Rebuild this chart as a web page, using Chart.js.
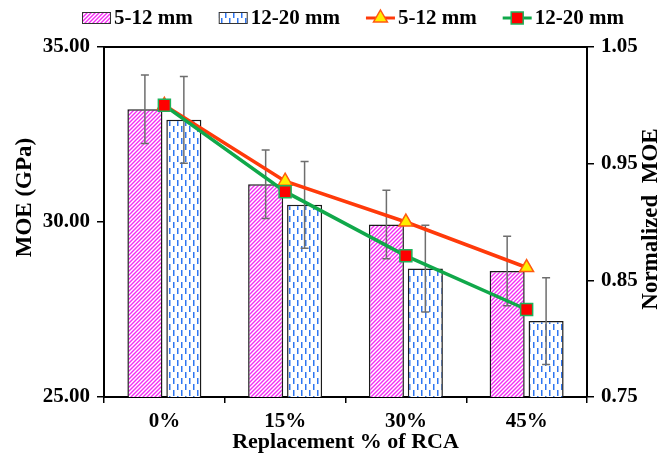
<!DOCTYPE html>
<html>
<head>
<meta charset="utf-8">
<script src="https://cdn.jsdelivr.net/npm/chart.js@4/dist/chart.umd.min.js"></script>
<style>
  html, body { margin: 0; padding: 0; background: #ffffff; }
  #wrap { width: 672px; height: 456px; }
</style>
</head>
<body>
<div id="wrap"><canvas id="chart" width="672" height="456"></canvas></div>
<script>
// Modulus of elasticity by RCA replacement level, two aggregate size ranges
const categories = ['0%', '15%', '30%', '45%'];
const seriesLabels = ['5-12 mm', '12-20 mm'];
const moeFine = [33.22, 31.08, 29.93, 28.60];      // GPa, 5-12 mm
const moeCoarse = [32.92, 30.49, 28.67, 27.17];    // GPa, 12-20 mm
const errFine = [0.98, 0.98, 0.98, 0.99];
const errCoarse = [1.24, 1.24, 1.24, 1.24];
const normFine = [1.000, 0.935, 0.900, 0.861];     // normalized MOE, 5-12 mm
const normCoarse = [1.000, 0.926, 0.871, 0.825];   // normalized MOE, 12-20 mm
const moeTicks = [25, 30, 35];
const normTicks = [0.75, 0.85, 0.95, 1.05];
const axisTitles = { x: 'Replacement % of RCA', y: 'MOE (GPa)', y1: 'Normalized  MOE' };

const FONT = '"Liberation Serif", "Times New Roman", serif';

// Fill patterns for the bars
function hatchPattern() {
  const c = document.createElement('canvas');
  c.width = 4; c.height = 4;
  const g = c.getContext('2d');
  g.fillStyle = '#ffffff';
  g.fillRect(0, 0, 4, 4);
  g.strokeStyle = '#f52cf5';
  g.lineWidth = 1.4;
  g.beginPath();
  g.moveTo(0, 4); g.lineTo(4, 0);
  g.moveTo(-1, 1); g.lineTo(1, -1);
  g.moveTo(3, 5); g.lineTo(5, 3);
  g.stroke();
  return g.createPattern(c, 'repeat');
}
function dashPattern() {
  const c = document.createElement('canvas');
  c.width = 8; c.height = 12;
  const g = c.getContext('2d');
  g.fillStyle = '#ffffff';
  g.fillRect(0, 0, 8, 12);
  g.fillStyle = '#2f76f2';
  g.fillRect(1, 0, 1.5, 6);
  g.fillRect(5, 6, 1.5, 6);
  return g.createPattern(c, 'repeat');
}
const pinkFill = hatchPattern();
const blueFill = dashPattern();

// Error bars drawn right after each bar dataset
const errorBars = {
  id: 'errorBars',
  afterDatasetDraw(chart, args) {
    const ds = chart.data.datasets[args.index];
    if (!ds.errors) return;
    const meta = args.meta;
    const y = chart.scales[ds.yAxisID || 'y'];
    const ctx = chart.ctx;
    ctx.save();
    ctx.strokeStyle = '#6e6e6e';
    ctx.lineWidth = 1.5;
    meta.data.forEach((el, i) => {
      const v = ds.data[i], e = ds.errors[i];
      const yt = y.getPixelForValue(v + e);
      const yb = y.getPixelForValue(v - e);
      const x = el.x;
      ctx.beginPath();
      ctx.moveTo(x, yt); ctx.lineTo(x, yb);
      ctx.moveTo(x - 4, yt); ctx.lineTo(x + 4, yt);
      ctx.moveTo(x - 4, yb); ctx.lineTo(x + 4, yb);
      ctx.stroke();
    });
    ctx.restore();
  }
};

// Top frame line of the plot area and the two vertical axis titles
const frameAndTitles = {
  id: 'frameAndTitles',
  afterDraw(chart) {
    const a = chart.chartArea, ctx = chart.ctx;
    ctx.save();
    ctx.strokeStyle = '#000';
    ctx.lineWidth = 2;
    ctx.beginPath();
    ctx.moveTo(a.left - 1, a.top);
    ctx.lineTo(a.right + 1, a.top);
    ctx.stroke();

    ctx.fillStyle = '#000';
    ctx.font = 'bold 23px ' + FONT;
    ctx.textAlign = 'center';
    ctx.textBaseline = 'middle';
    const ys = chart.scales.y, yr = chart.scales.y1;
    ctx.save();
    ctx.translate(ys.left + 25, a.top + (a.bottom - a.top) * 0.43);
    ctx.rotate(-Math.PI / 2);
    ctx.fillText(axisTitles.y, 0, 0);
    ctx.restore();
    ctx.save();
    ctx.translate(yr.right - 21, (a.top + a.bottom) / 2 - 3);
    ctx.rotate(-Math.PI / 2);
    ctx.fillText(axisTitles.y1, 0, 0);
    ctx.restore();
    ctx.restore();
  }
};

function drawMarker(ctx, style, x, y, r, fill, stroke) {
  ctx.fillStyle = fill;
  ctx.strokeStyle = stroke;
  ctx.lineWidth = 1.5;
  ctx.beginPath();
  if (style === 'triangle') {
    ctx.moveTo(x, y - r);
    ctx.lineTo(x + r * 0.866, y + r * 0.5);
    ctx.lineTo(x - r * 0.866, y + r * 0.5);
    ctx.closePath();
  } else {
    const s = r * Math.SQRT1_2;
    ctx.rect(x - s, y - s, 2 * s, 2 * s);
  }
  ctx.fill();
  ctx.stroke();
}

// Legend row across the top
const topLegend = {
  id: 'topLegend',
  afterDraw(chart) {
    const ctx = chart.ctx;
    ctx.save();
    ctx.font = 'bold 21px ' + FONT;
    ctx.textBaseline = 'middle';
    const yc = 18;
    let x = 82;
    chart.data.datasets.forEach(ds => {
      const sw = 29;
      if (ds.type === 'bar') {
        ctx.fillStyle = ds.backgroundColor;
        ctx.fillRect(x, yc - 6, sw, 12);
        ctx.strokeStyle = '#333';
        ctx.lineWidth = 1;
        ctx.strokeRect(x + 0.5, yc - 5.5, sw - 1, 11);
      } else {
        ctx.strokeStyle = ds.borderColor;
        ctx.lineWidth = 3;
        ctx.beginPath();
        ctx.moveTo(x, yc); ctx.lineTo(x + sw, yc);
        ctx.stroke();
        drawMarker(ctx, ds.pointStyle, x + sw / 2, yc, ds.pointRadius,
                   ds.pointBackgroundColor, ds.pointBorderColor);
      }
      x += sw + 3;
      ctx.fillStyle = '#000';
      ctx.fillText(ds.label, x, yc + 1);
      x += ctx.measureText(ds.label).width + 26;
    });
    ctx.restore();
  }
};

const tickFont = { family: FONT, size: 21, weight: 'bold' };
const titleFont = { family: FONT, size: 22, weight: 'bold' };

new Chart(document.getElementById('chart'), {
  data: {
    labels: categories,
    datasets: [
      {
        type: 'bar', label: seriesLabels[0], data: moeFine, errors: errFine,
        backgroundColor: pinkFill, borderColor: '#1a1a1a', borderWidth: 1.5,
        borderSkipped: false, yAxisID: 'y', order: 2,
        categoryPercentage: 0.645, barPercentage: 0.9
      },
      {
        type: 'bar', label: seriesLabels[1], data: moeCoarse, errors: errCoarse,
        backgroundColor: blueFill, borderColor: '#1a1a1a', borderWidth: 1.5,
        borderSkipped: false, yAxisID: 'y', order: 3,
        categoryPercentage: 0.645, barPercentage: 0.9
      },
      {
        type: 'line', label: seriesLabels[0], data: normFine, yAxisID: 'y1', order: 1,
        borderColor: '#ff3a0a', borderWidth: 3.5, tension: 0,
        pointStyle: 'triangle', pointRadius: 8,
        pointBackgroundColor: '#ffee00', pointBorderColor: '#ff5a10', pointBorderWidth: 1.5
      },
      {
        type: 'line', label: seriesLabels[1], data: normCoarse, yAxisID: 'y1', order: 0,
        borderColor: '#10a84a', borderWidth: 3.5, tension: 0,
        pointStyle: 'rect', pointRadius: 8.5,
        pointBackgroundColor: '#ff0000', pointBorderColor: '#1fb25a', pointBorderWidth: 1.5
      }
    ]
  },
  options: {
    responsive: false,
    animation: false,
    devicePixelRatio: 1,
    events: [],
    layout: { padding: { top: 47, left: 0, right: 0, bottom: 0 } },
    plugins: {
      legend: { display: false },
      tooltip: { enabled: false }
    },
    scales: {
      x: {
        type: 'category',
        offset: true,
        grid: { display: true, drawOnChartArea: false, drawTicks: true, tickLength: 6,
                color: '#000', lineWidth: 1.5, offset: true },
        border: { display: true, color: '#000', width: 2 },
        ticks: { font: tickFont, color: '#000', padding: 6 },
        title: { display: true, text: axisTitles.x, font: titleFont, color: '#000',
                 padding: { top: 0, bottom: 0 } },
        afterFit(s) { s.height = 59; }
      },
      y: {
        position: 'left',
        min: 25, max: 35,
        afterBuildTicks(s) { s.ticks = moeTicks.map(v => ({ value: v })); },
        grid: { display: true, drawOnChartArea: false, drawTicks: true, tickLength: 7,
                color: '#000', lineWidth: 1.5 },
        border: { display: true, color: '#000', width: 2 },
        ticks: { font: tickFont, color: '#000', padding: 7, callback: v => Number(v).toFixed(2) },
        title: { display: false },
        afterFit(s) { s.width = 104; }
      },
      y1: {
        position: 'right',
        min: 0.75, max: 1.05,
        afterBuildTicks(s) { s.ticks = normTicks.map(v => ({ value: v })); },
        grid: { display: true, drawOnChartArea: false, drawTicks: true, tickLength: 7,
                color: '#000', lineWidth: 1.5 },
        border: { display: true, color: '#000', width: 2 },
        ticks: { font: tickFont, color: '#000', padding: 7, callback: v => Number(v).toFixed(2) },
        title: { display: false },
        afterFit(s) { s.width = 85; }
      }
    }
  },
  plugins: [errorBars, frameAndTitles, topLegend]
});
</script>
</body>
</html>
